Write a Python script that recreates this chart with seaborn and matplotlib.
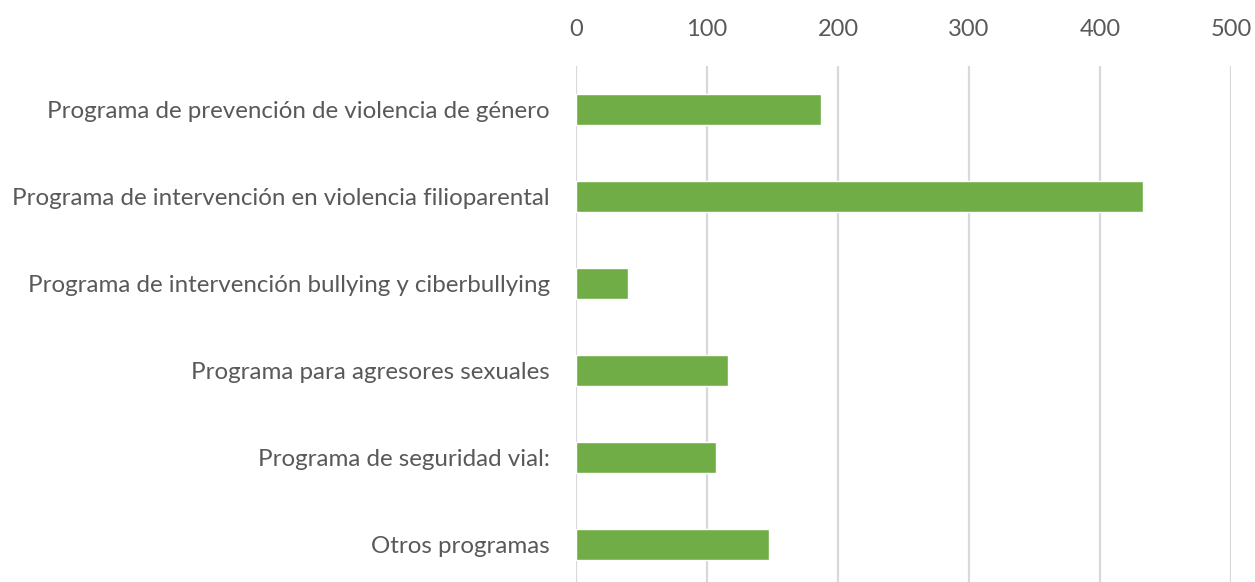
import matplotlib
matplotlib.use("Agg")
import matplotlib.pyplot as plt
import seaborn as sns
import pandas as pd

categories = [
    "Programa de prevención de violencia de género",
    "Programa de intervención en violencia filioparental",
    "Programa de intervención bullying y ciberbullying",
    "Programa para agresores sexuales",
    "Programa de seguridad vial:",
    "Otros programas",
]
values = [187, 433, 40, 116, 107, 147]
xticks = [0, 100, 200, 300, 400, 500]

sns.set_style("white")
plt.rcParams['font.family'] = ['Lato', 'DejaVu Sans']

df = pd.DataFrame({"cat": categories, "val": values})

fig = plt.figure(figsize=(12.55, 5.82), dpi=100)
W, H = 1255, 582
ax = fig.add_axes([576 / W, (H - 588) / H, (1231 - 576) / W, (588 - 66) / H])

sns.barplot(data=df, x="val", y="cat", orient="h", color="#70AD47",
            saturation=1, width=0.36, ax=ax, zorder=3)

ax.set_xlim(0, 500)
ax.set_ylim(5.5, -0.5)
ax.set_xticks(xticks)
ax.xaxis.tick_top()
ax.tick_params(axis="x", length=0, pad=19, labelsize=17, labelcolor="#595959")
ax.tick_params(axis="y", length=0, pad=19, labelsize=17.4, labelcolor="#595959")
ax.grid(axis="x", color="#D9D9D9", linewidth=1.6, zorder=0)
ax.set_axisbelow(True)
for s in ax.spines.values():
    s.set_visible(False)
ax.set_xlabel("")
ax.set_ylabel("")

fig.savefig("out.png", dpi=100)
